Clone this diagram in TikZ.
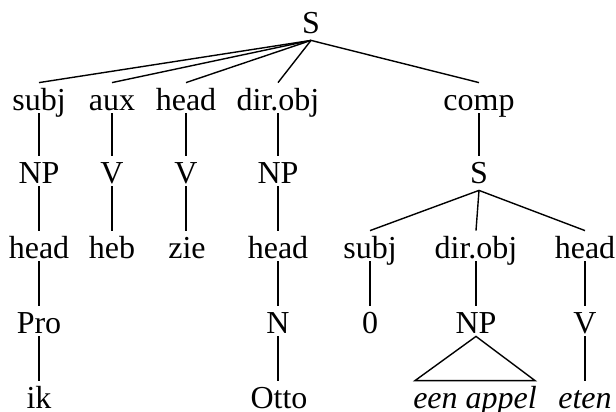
\documentclass[tikz,border=0pt]{standalone}
\usepackage{fontspec}
\setmainfont{Liberation Serif}
\begin{document}
\begin{tikzpicture}[x=0.5pt,y=-0.5pt,
  lab/.style={anchor=base, inner sep=0pt, text height=13.5pt, text depth=1.5pt, font=\fontsize{16}{19}\selectfont},
  top/.style={lab, text depth=3.5pt},
  word/.style={lab, font=\fontsize{16}{19}\selectfont\itshape},
  edge/.style={line width=0.7pt}]
\useasboundingbox (0,0) rectangle (616,412);
% top S
\node[top] (S0) at (311,33) {S};
% row 1
\node[lab] (a1) at (39,110) {subj};
\node[lab] (a2) at (112,110) {aux};
\node[lab] (a3) at (186,110) {head};
\node[lab] (a4) at (278,110) {dir.obj};
\node[lab] (a5) at (479,110) {comp};
% row 2
\node[lab] (b1) at (39,183) {NP};
\node[lab] (b2) at (112,183) {V};
\node[lab] (b3) at (186,183) {V};
\node[lab] (b4) at (278,183) {NP};
\node[top] (S1) at (479,183) {S};
% row 3
\node[lab] (c1) at (39,258) {head};
\node[lab] (c2) at (112,258) {heb};
\node[lab] (c3) at (187,258) {zie};
\node[lab] (c4) at (278,258) {head};
\node[lab] (d1) at (370,258) {subj};
\node[lab] (d2) at (476,258) {dir.obj};
\node[lab] (d3) at (585,258) {head};
% row 4
\node[lab] (e1) at (39,333) {Pro};
\node[lab] (e4) at (278,333) {N};
\node[lab] (f1) at (370,333) {0};
\node[lab] (f2) at (476,333) {NP};
\node[lab] (f3) at (585,333) {V};
% row 5
\node[lab] (g1) at (39,408) {ik};
\node[lab] (g4) at (279,408) {Otto};
\node[word] (h2) at (475,408) {een appel};
\node[word] (h3) at (585,408) {eten};
% edges
\foreach \t in {a1,a2,a3,a4,a5} \draw[edge] (S0.south) -- (\t.north);
\draw[edge] (a1.south) -- (b1.north);
\draw[edge] (a2.south) -- (b2.north);
\draw[edge] (a3.south) -- (b3.north);
\draw[edge] (a4.south) -- (b4.north);
\draw[edge] (a5.south) -- (S1.north);
\draw[edge] (b1.south) -- (c1.north);
\draw[edge] (b2.south) -- (c2.north -| b2.south);
\draw[edge] (b3.south) -- (c3.north -| b3.south);
\draw[edge] (b4.south) -- (c4.north);
\foreach \t in {d1,d2,d3} \draw[edge] (S1.south) -- (\t.north);
\draw[edge] (c1.south) -- (e1.north);
\draw[edge] (c4.south) -- (e4.north);
\draw[edge] (d1.south) -- (f1.north);
\draw[edge] (d2.south) -- (f2.north);
\draw[edge] (d3.south) -- (f3.north);
\draw[edge] (e1.south) -- (g1.north);
\draw[edge] (e4.south) -- (g4.north -| e4.south);
\draw[edge] (f3.south) -- (h3.north);
\draw[edge] (f2.south) -- ([xshift=-30pt]h2.north) -- ([xshift=30pt]h2.north) -- cycle;
\end{tikzpicture}
\end{document}
